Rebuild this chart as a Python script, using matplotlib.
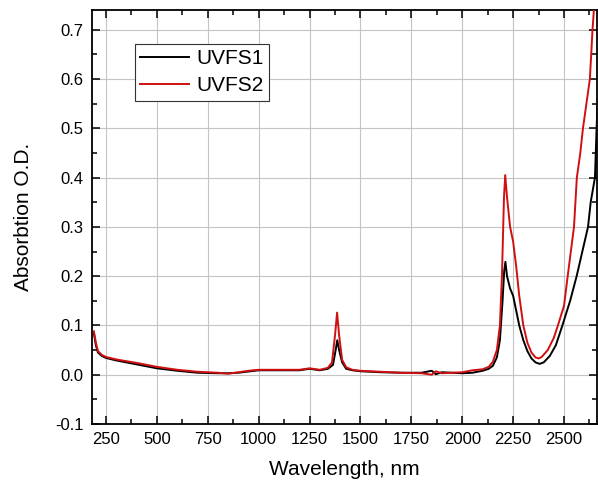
import numpy as np
import matplotlib
matplotlib.use("Agg")
import matplotlib.pyplot as plt
from matplotlib.ticker import MultipleLocator, FormatStrFormatter

plt.rcParams['font.family'] = ['Liberation Sans', 'DejaVu Sans']
plt.rcParams['axes.unicode_minus'] = False

# values (wavelength nm, absorption O.D.)
wl_uvfs1 = [190, 200, 210, 230, 250, 300, 400, 500, 600, 700, 800, 850, 900,
            1000, 1100, 1200, 1250, 1300, 1340, 1365, 1378, 1386, 1395, 1410,
            1430, 1460, 1500, 1600, 1700, 1800, 1850, 1870, 1900, 2000, 2050,
            2100, 2130, 2150, 2170, 2185, 2198, 2206, 2212, 2220, 2235, 2250,
            2265, 2280, 2300, 2320, 2340, 2360, 2380, 2400, 2430, 2460, 2492,
            2530, 2562, 2590, 2618, 2631, 2652, 2660, 2665]
od_uvfs1 = [0.085, 0.060, 0.045, 0.038, 0.034, 0.029, 0.021, 0.013, 0.008,
            0.004, 0.003, 0.003, 0.004, 0.009, 0.009, 0.009, 0.012, 0.009,
            0.012, 0.020, 0.050, 0.070, 0.050, 0.025, 0.012, 0.009, 0.007,
            0.005, 0.004, 0.004, 0.008, 0.001, 0.005, 0.003, 0.004, 0.008,
            0.012, 0.018, 0.035, 0.070, 0.150, 0.210, 0.229, 0.200, 0.175,
            0.160, 0.130, 0.100, 0.070, 0.048, 0.033, 0.025, 0.022, 0.025,
            0.038, 0.060, 0.100, 0.150, 0.200, 0.250, 0.300, 0.350, 0.400,
            0.500, 0.550]

wl_uvfs2 = [190, 200, 210, 230, 250, 300, 400, 500, 600, 700, 800, 850, 900,
            950, 1000, 1100, 1200, 1250, 1300, 1340, 1360, 1375, 1385, 1395,
            1410, 1430, 1460, 1500, 1600, 1700, 1800, 1850, 1870, 1900, 2000,
            2050, 2100, 2130, 2150, 2170, 2185, 2195, 2205, 2211, 2220, 2235,
            2250, 2265, 2280, 2300, 2320, 2340, 2360, 2375, 2390, 2420, 2450,
            2470, 2500, 2518, 2549, 2563, 2580, 2593, 2627, 2640, 2650]
od_uvfs2 = [0.088, 0.065, 0.048, 0.040, 0.036, 0.031, 0.024, 0.016, 0.010,
            0.006, 0.004, 0.002, 0.005, 0.008, 0.010, 0.010, 0.010, 0.013,
            0.010, 0.014, 0.025, 0.080, 0.126, 0.080, 0.030, 0.015, 0.010,
            0.008, 0.006, 0.004, 0.003, 0.000, 0.007, 0.003, 0.005, 0.009,
            0.011, 0.016, 0.026, 0.050, 0.100, 0.200, 0.360, 0.405, 0.360,
            0.300, 0.270, 0.220, 0.160, 0.100, 0.065, 0.045, 0.035, 0.033,
            0.036, 0.050, 0.075, 0.100, 0.140, 0.200, 0.300, 0.400, 0.450,
            0.500, 0.600, 0.700, 0.760]

fig = plt.figure(figsize=(5.98, 4.83), dpi=100)
ax = fig.add_axes([92 / 598, 59 / 483, 505 / 598, 414 / 483])

ax.plot(wl_uvfs1, od_uvfs1, color='black', lw=1.4, label='UVFS1', zorder=3)
ax.plot(wl_uvfs2, od_uvfs2, color='#d01010', lw=1.4, label='UVFS2', zorder=4)

ax.set_xlim(181, 2662)
ax.set_ylim(-0.1, 0.74)
ax.xaxis.set_major_locator(MultipleLocator(250))
ax.xaxis.set_minor_locator(MultipleLocator(125))
ax.yaxis.set_major_locator(MultipleLocator(0.1))
ax.yaxis.set_minor_locator(MultipleLocator(0.05))
ax.yaxis.set_major_formatter(FormatStrFormatter('%.1f'))

ax.grid(True, which='major', color='#c4c4c4', lw=0.8, zorder=0)
ax.tick_params(which='both', direction='in', top=True, right=True,
               width=1.1, labelsize=12, pad=6)
ax.tick_params(which='major', length=6)
ax.tick_params(which='minor', length=3.5)
for s in ax.spines.values():
    s.set_linewidth(1.3)

ax.set_xlabel('Wavelength, nm', fontsize=15, labelpad=9)
ax.set_ylabel('Absorbtion O.D.', fontsize=15, labelpad=16)

leg = ax.legend(loc='upper left', bbox_to_anchor=(0.085, 0.918),
                borderaxespad=0, fontsize=15, handlelength=2.35,
                handletextpad=0.33, borderpad=0.25, labelspacing=0.4,
                fancybox=False, framealpha=1, edgecolor='#333333')
leg.get_frame().set_linewidth(0.8)

fig.savefig('out.png', dpi=100)
